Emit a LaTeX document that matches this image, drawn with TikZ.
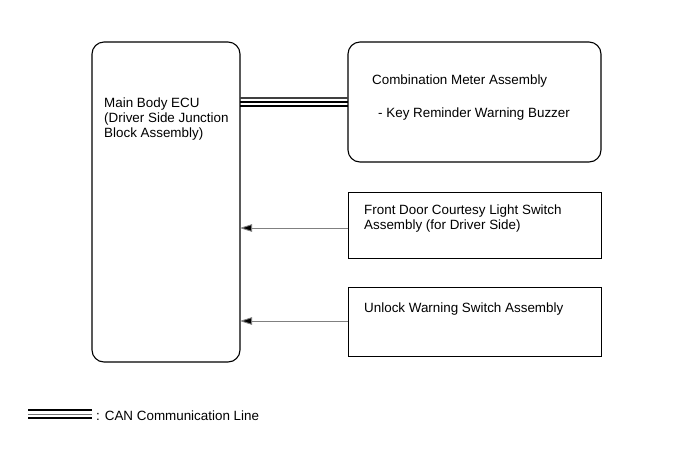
\documentclass[tikz,border=0pt]{standalone}
\usepackage{fontspec}
\setmainfont{Liberation Sans}
\usetikzlibrary{arrows.meta}
\begin{document}
\begin{tikzpicture}[x=1pt,y=-1pt,
  rbox/.style={draw=black,line width=1.1pt,rounded corners=12pt},
  sbox/.style={draw=black,line width=1pt},
  lbl/.style={anchor=base west,inner sep=0pt,font=\fontsize{13.4}{15.2}\selectfont,align=left},
  sig/.style={draw=gray,line width=0.9pt,-{Triangle[length=12pt,width=7.5pt,fill=black]}},
  canl/.style={line width=1.2pt}]
\useasboundingbox (0,0) rectangle (690,467);
\draw[rbox] (92,42) rectangle (240,362);
\coordinate (ecuR1) at (240,228);
\coordinate (ecuR2) at (240,321);
\node[lbl] (ecut1) at (104,107.5) {Main Body ECU};
\node[lbl] (ecut2) at (104,122.7) {(Driver Side Junction};
\node[lbl] (ecut3) at (104,137.9) {Block Assembly)};
\draw[rbox] (348,42) rectangle (601,162);
\node[lbl] (cmt) at (372,84) {Combination Meter Assembly};
\node[lbl] (cmt2) at (378,117) {- Key Reminder Warning Buzzer};
\draw[sbox] (348,192) rectangle (601,258);
\node[lbl] (fdt1) at (364,214) {Front Door Courtesy Light Switch};
\node[lbl] (fdt2) at (364,229.2) {Assembly (for Driver Side)};
\draw[sbox] (348,287) rectangle (601,356);
\node[lbl] (uwt) at (364,312.5) {Unlock Warning Switch Assembly};
\coordinate (fdL) at (348,228);
\coordinate (uwL) at (348,321);
\draw[sig] (fdL) -- (ecuR1);
\draw[sig] (uwL) -- (ecuR2);
% CAN line
\draw[canl,draw=black!75] (240,98) -- (348,98);
\draw[canl] (240,102) -- (348,102);
\draw[line width=2.2pt] (240,105.8) -- (348,105.8);
% legend
\draw[line width=2pt] (28,410) -- (92,410);
\draw[canl,draw=black!55] (28,414.2) -- (92,414.2);
\draw[line width=2pt] (28,418.4) -- (92,418.4);
\node[lbl] (leg) at (96,420) {: CAN Communication Line};
\end{tikzpicture}
\end{document}
